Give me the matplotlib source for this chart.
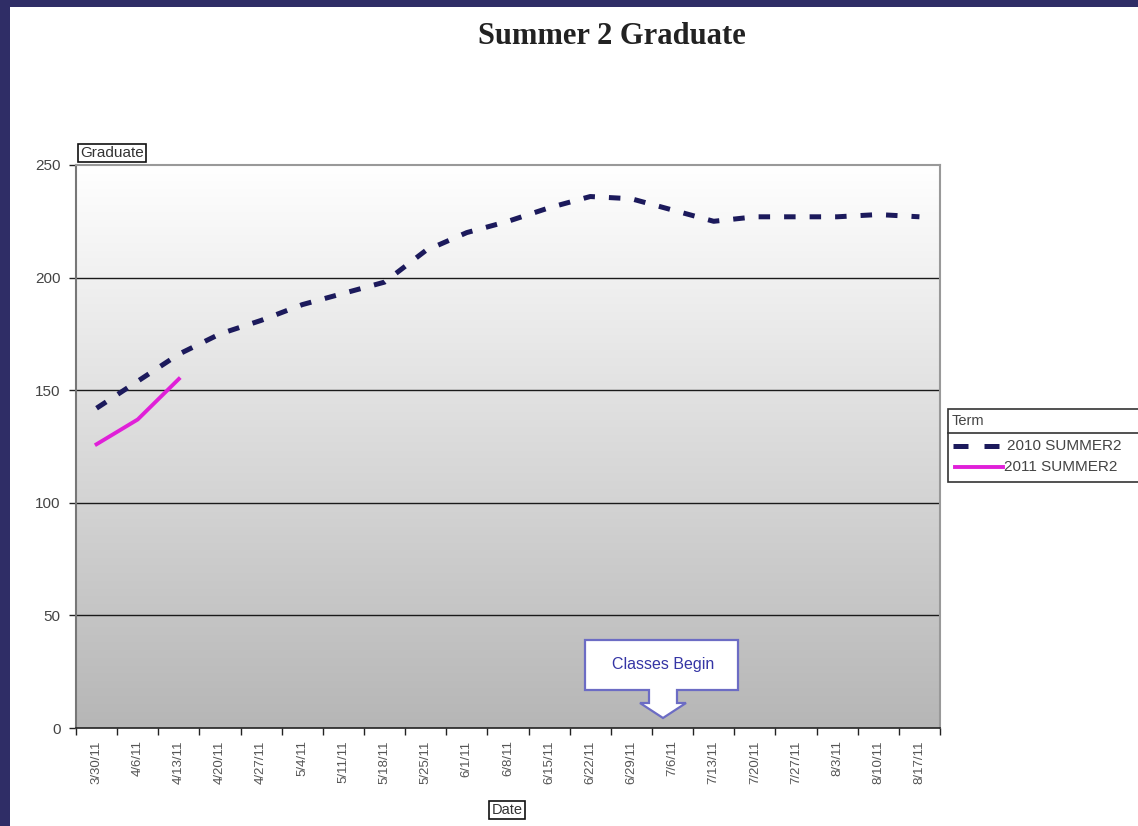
import matplotlib
matplotlib.use('Agg')
import matplotlib.pyplot as plt
import numpy as np
from matplotlib.patches import Rectangle, Polygon
from matplotlib.lines import Line2D
from matplotlib.colors import LinearSegmentedColormap

W, H = 1138, 826

dates = ['3/30/11', '4/6/11', '4/13/11', '4/20/11', '4/27/11', '5/4/11', '5/11/11',
         '5/18/11', '5/25/11', '6/1/11', '6/8/11', '6/15/11', '6/22/11', '6/29/11',
         '7/6/11', '7/13/11', '7/20/11', '7/27/11', '8/3/11', '8/10/11', '8/17/11']
summer2_2010 = [142, 154, 166, 175, 181, 188, 193, 198, 212, 220, 225, 231, 236, 235,
                230, 225, 227, 227, 227, 228, 227]
summer2_2011 = [126, 137, 155]
yticks = [0, 50, 100, 150, 200, 250]

NAVY = '#1c1a5c'
PINK = '#e020d8'
DASH = (2.3, 2.8)


def px(x, y):
    # figure pixel (from top-left) -> figure fraction
    return (x / W, 1 - y / H)


plt.rcParams['font.family'] = ['Liberation Sans', 'DejaVu Sans']
fig = plt.figure(figsize=(W / 100, H / 100), dpi=100, facecolor='white')

# navy frame on top and left
fig.patches.append(Rectangle(px(0, 7), 1, 7 / H, transform=fig.transFigure,
                             facecolor='#2f2d66', edgecolor='none', zorder=0))
fig.patches.append(Rectangle(px(0, H), 10 / W, 1, transform=fig.transFigure,
                             facecolor='#2f2d66', edgecolor='none', zorder=0))

l, b = px(76, 728)
r, t = px(940, 165)
ax = fig.add_axes([l, b, r - l, t - b])

# gray gradient background, white on top
cmap = LinearSegmentedColormap.from_list('bg', ['#ffffff', '#b6b6b6'])
grad = np.linspace(0, 1, 256).reshape(-1, 1)
ax.imshow(grad, cmap=cmap, aspect='auto', extent=[0, 1, 0, 1], origin='upper',
          transform=ax.transAxes, zorder=0)

x = np.arange(len(dates))
for v in yticks[1:-1]:
    ax.axhline(v, color='#1a1a1a', lw=1.0, zorder=1)

ax.plot(x, summer2_2010, color=NAVY, lw=3.6, dashes=DASH, zorder=3,
        dash_capstyle='butt')
ax.plot(x[:len(summer2_2011)], summer2_2011, color=PINK, lw=2.8, zorder=3)

ax.set_xlim(-0.5, len(dates) - 0.5)
ax.set_ylim(0, 250)
ax.set_yticks(yticks)
ax.set_yticklabels([str(v) for v in yticks], fontsize=11, color='#444444')
ax.set_xticks(x)
ax.set_xticklabels(dates, rotation=90, fontsize=9.5, color='#555555', va='top')
ax.tick_params(axis='x', which='major', length=0, pad=9)
ax.set_xticks(np.arange(-0.5, len(dates)), minor=True)
ax.tick_params(axis='x', which='minor', length=5, width=1, color='#222222',
               direction='out')
ax.tick_params(axis='y', length=5, width=1, color='#222222', direction='out', pad=6)

for s in ['top', 'right']:
    ax.spines[s].set_color('#999999')
    ax.spines[s].set_linewidth(1.5)
ax.spines['left'].set_color('#777777')
ax.spines['left'].set_linewidth(1.5)
ax.spines['bottom'].set_color('#222222')
ax.spines['bottom'].set_linewidth(1.2)

# title
fig.text(*px(612, 37), 'Summer 2 Graduate', family=['Liberation Serif', 'DejaVu Serif'],
         fontsize=22, fontweight='bold', color='#222222', ha='center', va='center')

# axis title boxes
box = dict(boxstyle='square,pad=0.15', facecolor='white', edgecolor='#111111', lw=1.2)
fig.text(*px(80, 153), 'Graduate', fontsize=11, color='#333333', ha='left',
         va='center', bbox=box)
fig.text(*px(507, 810), 'Date', fontsize=10.5, color='#333333', ha='center',
         va='center', bbox=box)

# legend drawn by hand
lx0, ly0, lx1, ly1 = 948, 409, 1140, 482
fig.patches.append(Rectangle(px(lx0, ly1), (lx1 - lx0) / W, (ly1 - ly0) / H,
                             transform=fig.transFigure, facecolor='white',
                             edgecolor='#333333', lw=1.2, zorder=5))
fig.lines.append(Line2D([px(lx0, 0)[0], 1], [px(0, 433)[1]] * 2, transform=fig.transFigure,
                        color='#333333', lw=1.2, zorder=6))
fig.text(*px(952, 421), 'Term', fontsize=10.5, color='#444444', ha='left', va='center',
         zorder=7)
fig.lines.append(Line2D([px(953, 0)[0], px(1002, 0)[0]], [px(0, 446)[1]] * 2,
                        transform=fig.transFigure, color=NAVY, lw=3.6, dashes=(3, 3.2),
                        zorder=7))
fig.lines.append(Line2D([px(955, 0)[0], px(1003, 0)[0]], [px(0, 467)[1]] * 2,
                        transform=fig.transFigure, color=PINK, lw=2.8, zorder=7))
fig.text(*px(1007, 446), '2010 SUMMER2', fontsize=11, color='#444444', ha='left',
         va='center', zorder=7)
fig.text(*px(1004, 467), '2011 SUMMER2', fontsize=11, color='#444444', ha='left',
         va='center', zorder=7)

# "Classes Begin" callout
shape = [(585, 640), (738, 640), (738, 690), (677, 690), (677, 703), (686, 703),
         (663, 718), (640, 703), (649, 703), (649, 690), (585, 690)]
fig.patches.append(Polygon([px(a, c) for a, c in shape], closed=True,
                           transform=fig.transFigure, facecolor='white',
                           edgecolor='#6c6cc4', lw=1.6, zorder=8))
fig.text(*px(663, 665), 'Classes Begin', fontsize=11.5, color='#3535a5', ha='center',
         va='center', zorder=9)

fig.savefig('out.png', dpi=100, facecolor='white')
